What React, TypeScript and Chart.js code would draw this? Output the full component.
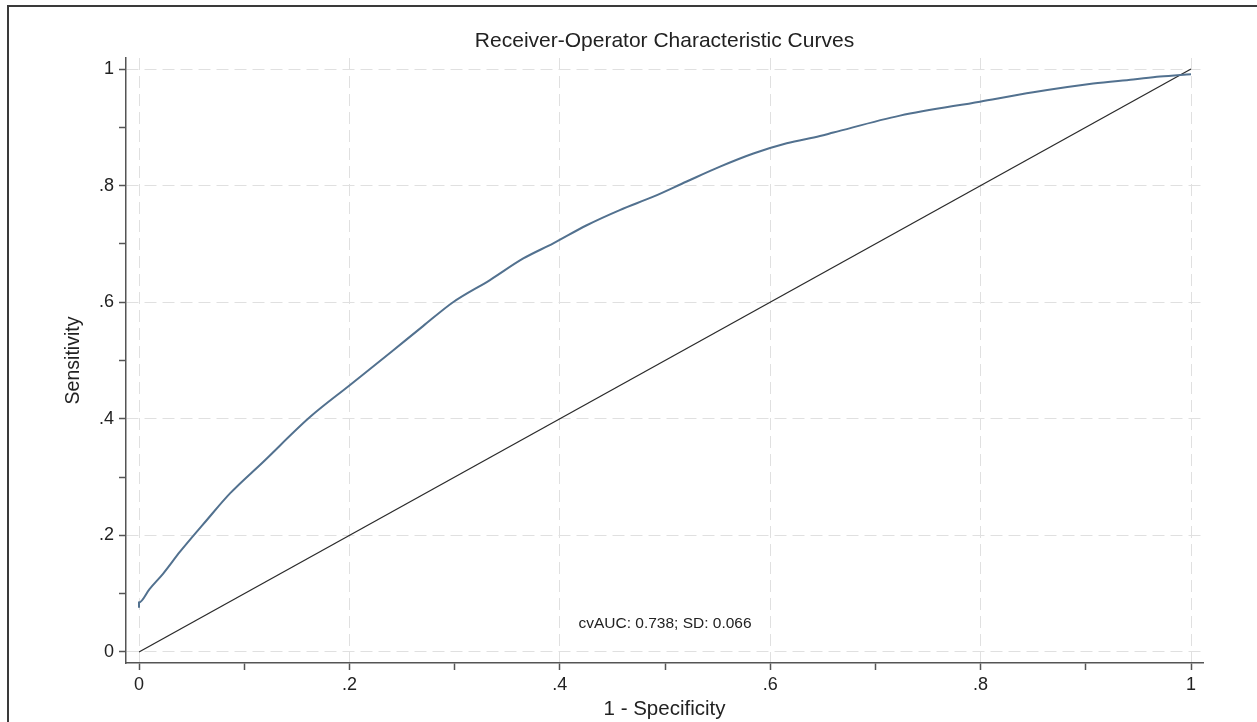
import React, { useEffect, useRef } from 'react';
import { Chart, registerables } from 'chart.js';

Chart.register(...registerables);

// ROC curve (1 - specificity, sensitivity)
const rocFpr = [0, 0, 0.01, 0.0232, 0.039, 0.0643, 0.0865, 0.118, 0.1625, 0.2006, 0.24, 0.27, 0.2985, 0.3336, 0.3653, 0.3938, 0.4256, 0.457, 0.4889, 0.5206, 0.5523, 0.584, 0.6157, 0.6473, 0.6600, 0.7234, 0.7994, 0.85, 0.907, 0.945, 0.9705, 1.0];
const rocTpr = [0.076, 0.085, 0.108, 0.135, 0.172, 0.226, 0.272, 0.326, 0.403, 0.458, 0.515, 0.559, 0.6, 0.638, 0.675, 0.701, 0.732, 0.758, 0.781, 0.807, 0.8325, 0.855, 0.8725, 0.885, 0.891, 0.92, 0.944, 0.96, 0.975, 0.982, 0.987, 0.991];

// Reference (chance) line
const refFpr = [0, 1];
const refTpr = [0, 1];

// Ticks
const xTickValues = [0, 0.1, 0.2, 0.3, 0.4, 0.5, 0.6, 0.7, 0.8, 0.9, 1];
const xTickLabels = ['0', '', '.2', '', '.4', '', '.6', '', '.8', '', '1'];
const yTickValues = [0, 0.1, 0.2, 0.3, 0.4, 0.5, 0.6, 0.7, 0.8, 0.9, 1];
const yTickLabels = ['0', '', '.2', '', '.4', '', '.6', '', '.8', '', '1'];

const titleText = 'Receiver-Operator Characteristic Curves';
const xTitleText = '1 - Specificity';
const yTitleText = 'Sensitivity';
const noteText = 'cvAUC: 0.738; SD: 0.066';
const noteX = 0.5;
const noteY = 0.048;

const FONT = '"Liberation Sans", Arial, Helvetica, sans-serif';

const textPlugin = {
  id: 'textPlugin',
  afterDatasetsDraw(chart: any) {
    const { ctx, scales, chartArea } = chart;
    const px = scales.x.getPixelForValue(noteX);
    const py = scales.y.getPixelForValue(noteY);
    ctx.save();
    ctx.fillStyle = '#222';
    ctx.textAlign = 'center';
    ctx.textBaseline = 'middle';
    ctx.font = `15.5px ${FONT}`;
    ctx.fillText(noteText, px, py);
    ctx.font = `21px ${FONT}`;
    ctx.fillText(titleText, (chartArea.left + chartArea.right) / 2, 41);
    ctx.restore();
  },
};

export default function App() {
  const canvasRef = useRef<HTMLCanvasElement | null>(null);

  useEffect(() => {
    if (!canvasRef.current) return;
    Chart.defaults.font.family = FONT;
    const rocData = rocFpr.map((x, i) => ({ x, y: rocTpr[i] }));
    const refData = refFpr.map((x, i) => ({ x, y: refTpr[i] }));

    const gridColor = (c: any) => (c.index % 2 === 0 ? '#e0e0e0' : 'rgba(0,0,0,0)');

    const chart = new Chart(canvasRef.current, {
      type: 'scatter',
      data: {
        datasets: [
          {
            data: rocData,
            showLine: true,
            borderColor: '#52718f',
            borderWidth: 2,
            pointRadius: 0,
            cubicInterpolationMode: 'monotone',
          },
          {
            data: refData,
            showLine: true,
            borderColor: '#2b2b2b',
            borderWidth: 1.3,
            pointRadius: 0,
          },
        ],
      },
      options: {
        responsive: false,
        animation: false,
        devicePixelRatio: 1,
        layout: { padding: { left: 0, right: 54, top: 58, bottom: 0 } },
        plugins: {
          legend: { display: false },
          tooltip: { enabled: false },
          title: { display: false },
        },
        scales: {
          x: {
            type: 'linear',
            min: -0.01236,
            max: 1.0114,
            afterBuildTicks: (scale: any) => {
              scale.ticks = xTickValues.map((v) => ({ value: v }));
            },
            afterFit: (scale: any) => {
              scale.height = 59;
            },
            ticks: {
              autoSkip: false,
              maxRotation: 0,
              padding: 4,
              color: '#222',
              font: { size: 18, family: FONT },
              callback: (_v: any, i: number) => xTickLabels[i],
            },
            grid: {
              color: gridColor,
              lineWidth: 1,
              tickColor: '#555',
              tickLength: 7,
              tickWidth: 1.5,
            },
            border: { display: true, color: '#555', width: 1.5, dash: [12, 6] },
            title: {
              display: true,
              text: xTitleText,
              color: '#222',
              font: { size: 20.5, family: FONT },
              padding: { top: 0, bottom: 0 },
            },
          },
          y: {
            type: 'linear',
            min: -0.01887,
            max: 1.01887,
            afterBuildTicks: (scale: any) => {
              scale.ticks = yTickValues.map((v) => ({ value: v }));
            },
            afterFit: (scale: any) => {
              scale.width = 126;
            },
            ticks: {
              autoSkip: false,
              padding: 5,
              color: '#222',
              font: { size: 18, family: FONT },
              callback: (_v: any, i: number) => yTickLabels[i],
            },
            grid: {
              color: gridColor,
              lineWidth: 1,
              tickColor: '#555',
              tickLength: 7,
              tickWidth: 1.5,
            },
            border: { display: true, color: '#555', width: 1.5, dash: [12, 6] },
            title: {
              display: true,
              text: yTitleText,
              color: '#222',
              font: { size: 19.5, family: FONT },
              padding: { top: 62, bottom: 0 },
            },
          },
        },
      },
      plugins: [textPlugin],
    } as any);

    return () => chart.destroy();
  }, []);

  return (
    <>
      <div
        style={{
          position: 'fixed',
          left: 7,
          top: 5,
          width: 1250,
          height: 717,
          borderTop: '2px solid #3a3a3a',
          borderLeft: '2px solid #3a3a3a',
          boxSizing: 'border-box',
        }}
      />
      <div style={{ position: 'fixed', left: 0, top: 0, width: 1257, height: 722 }}>
        <canvas ref={canvasRef} width={1257} height={722} style={{ display: 'block' }} />
      </div>
    </>
  );
}
